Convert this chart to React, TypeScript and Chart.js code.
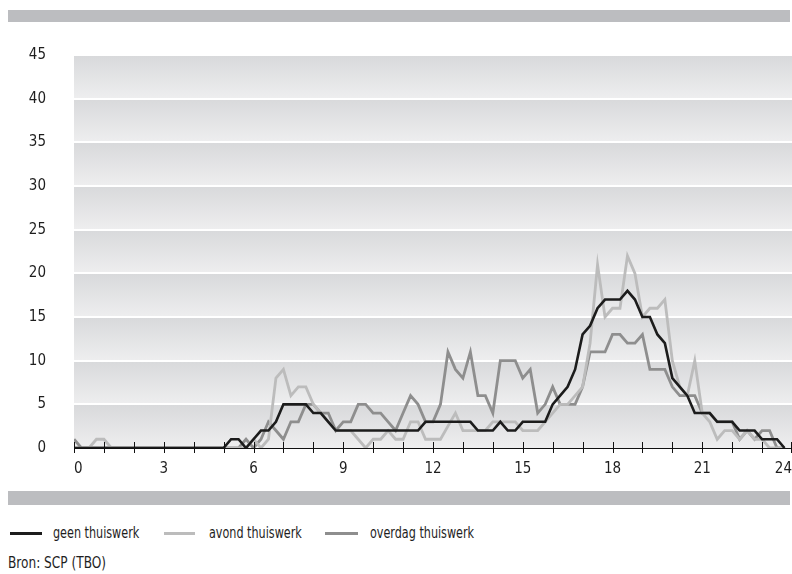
import React, { useEffect, useLayoutEffect, useRef } from "react";
import { Chart, registerables } from "chart.js";

Chart.register(...registerables);

// quarter-hour time points (hours)
const hours: number[] = Array.from({ length: 96 }, (_, i) => i * 0.25);

// geen thuiswerk (black)
const geen: number[] = [
  0, 0, 0, 0, 0, 0, 0, 0, 0, 0, 0, 0, 0, 0, 0, 0, 0, 0, 0, 0,
  0, 1, 1, 0, 1, 2, 2, 3, 5, 5, 5, 5, 4, 4, 3, 2,
  2, 2, 2, 2, 2, 2, 2, 2, 2, 2, 2, 3,
  3, 3, 3, 3, 3, 3, 2, 2, 2, 3, 2, 2, 3, 3, 3, 3,
  5, 6, 7, 9, 13, 14, 16, 17, 17, 17, 18, 17, 15, 15, 13, 12,
  8, 7, 6, 4, 4, 4, 3, 3, 3, 2, 2, 2, 1, 1, 1, 0,
];

// avond thuiswerk (light grey)
const avond: number[] = [
  0, 0, 0, 1, 1, 0, 0, 0, 0, 0, 0, 0, 0, 0, 0, 0, 0, 0, 0, 0,
  0, 0, 0, 0, 1, 0, 1, 8, 9, 6, 7, 7, 5, 4, 3, 2,
  2, 2, 1, 0, 1, 1, 2, 1, 1, 3, 3, 1,
  1, 1, 2.5, 4, 2, 2, 2, 2, 3, 3, 3, 3, 2, 2, 2, 3,
  4, 5, 5, 6, 7, 12, 21, 15, 16, 16, 22, 20, 15, 16, 16, 17,
  10, 7, 6, 10, 4, 3, 1, 2, 2, 1, 2, 1, 1, 0, 0, 0,
];

// overdag thuiswerk (mid grey)
const overdag: number[] = [
  1, 0, 0, 0, 0, 0, 0, 0, 0, 0, 0, 0, 0, 0, 0, 0, 0, 0, 0, 0,
  0, 0, 0, 1, 0, 1, 3, 2, 1, 3, 3, 5, 5, 4, 4, 2,
  3, 3, 5, 5, 4, 4, 3, 2, 4, 6, 5, 3,
  3, 5, 11, 9, 8, 11, 6, 6, 4, 10, 10, 10, 8, 9, 4, 5,
  7, 5, 5, 5, 7, 11, 11, 11, 13, 13, 12, 12, 13, 9, 9, 9,
  7, 6, 6, 6, 4, 4, 3, 3, 3, 1, 2, 1, 2, 2, 0, 0,
];

const xTickValues: number[] = [0, 3, 6, 9, 12, 15, 18, 21, 24];
const hourMarks: number[] = [0, 1, 2, 3, 4, 5, 6, 7, 8, 9, 10, 11, 12, 13, 14, 15, 16, 17, 18, 19, 20, 21, 22, 23, 24];
const yBands: number[] = [0, 5, 10, 15, 20, 25, 30, 35, 40];

const seriesLabels = ["geen thuiswerk", "avond thuiswerk", "overdag thuiswerk"];
const seriesColors = ["#1c1c1c", "#bcbcbc", "#8e8e8e"];

const FONT = "'Liberation Sans Narrow', 'DejaVu Sans Condensed', 'Arial Narrow', sans-serif";
const TEXT = "#1e1e1e";

const bandsPlugin = {
  id: "bands",
  beforeDraw(chart: any) {
    const { ctx, chartArea, scales } = chart;
    const y = scales.y;
    ctx.save();
    for (const v of yBands) {
      const top = y.getPixelForValue(v + 5);
      const bottom = y.getPixelForValue(v);
      const g = ctx.createLinearGradient(0, top, 0, bottom);
      g.addColorStop(0, "#d8d9db");
      g.addColorStop(1, "#eeeeef");
      ctx.fillStyle = g;
      ctx.fillRect(chartArea.left, top, chartArea.right - chartArea.left, bottom - top);
    }
    ctx.restore();
  },
};

const tickMarksPlugin = {
  id: "tickMarks",
  afterDatasetsDraw(chart: any) {
    const { ctx, scales } = chart;
    const x = scales.x;
    const y0 = scales.y.getPixelForValue(0);
    ctx.save();
    ctx.strokeStyle = "#111";
    ctx.lineWidth = 1;
    for (const h of hourMarks) {
      const px = Math.min(Math.round(x.getPixelForValue(h)) + 0.5, chart.width - 0.5);
      ctx.beginPath();
      ctx.moveTo(px, y0 - 6);
      ctx.lineTo(px, y0 + 5);
      ctx.stroke();
    }
    ctx.restore();
  },
};

export default function App() {
  const ref = useRef<HTMLCanvasElement | null>(null);

  useLayoutEffect(() => {
    document.body.style.margin = "0";
  }, []);

  useEffect(() => {
    if (!ref.current) return;
    const values = [geen, avond, overdag];
    const chart = new Chart(ref.current, {
      type: "line",
      data: {
        datasets: values.map((arr, k) => ({
          label: seriesLabels[k],
          data: hours.map((t, i) => ({ x: t, y: arr[i] })),
          borderColor: seriesColors[k],
          backgroundColor: seriesColors[k],
          borderWidth: k === 0 ? 2.6 : 2.8,
          pointRadius: 0,
          tension: 0,
          fill: false,
        })),
      },
      options: {
        animation: false,
        responsive: false,
        maintainAspectRatio: false,
        layout: { padding: { top: 33, right: 0, left: 0, bottom: 0 } },
        plugins: { legend: { display: false }, tooltip: { enabled: false } },
        scales: {
          x: {
            type: "linear",
            min: 0,
            max: 24,
            afterFit: (s: any) => {
              s.height = 42;
              s.paddingLeft = 0;
              s.paddingRight = 0;
            },
            afterBuildTicks: (s: any) => {
              s.ticks = xTickValues.map((v) => ({ value: v }));
            },
            grid: { display: false, drawTicks: false },
            border: { display: true, color: "#111", width: 1 },
            ticks: {
              align: "inner",
              padding: 12,
              autoSkip: false,
              maxRotation: 0,
              color: TEXT,
              font: { family: FONT, size: 15 },
              callback: (v: any) => String(v),
            },
          },
          y: {
            min: 0,
            max: 45,
            afterFit: (s: any) => {
              s.width = 66;
              s.paddingTop = 0;
              s.paddingBottom = 0;
            },
            ticks: { stepSize: 5, padding: 28, color: TEXT, font: { family: FONT, size: 15 } },
            grid: {
              drawTicks: false,
              lineWidth: 2,
              color: (c: any) => (c.tick && c.tick.value === 0 ? "rgba(0,0,0,0)" : "#ffffff"),
            },
            border: { display: false },
          },
        },
      },
      plugins: [bandsPlugin, tickMarksPlugin],
    } as any);
    return () => chart.destroy();
  }, []);

  const textStyle: React.CSSProperties = {
    position: "absolute",
    fontFamily: FONT,
    fontSize: 15,
    color: TEXT,
    lineHeight: "18px",
    whiteSpace: "nowrap",
    transformOrigin: "0 50%",
  };

  const legendPos = [
    { sx: 10, sw: 32, tx: 53 },
    { sx: 164, sw: 31, tx: 209 },
    { sx: 325, sw: 33, tx: 370 },
  ];

  return (
    <div style={{ position: "relative", width: 792, height: 574, overflow: "hidden" }}>
      <div style={{ position: "absolute", left: 8, top: 10, width: 782, height: 12, background: "#bcbdc0" }} />
      <canvas
        ref={ref}
        width={784}
        height={468}
        style={{ position: "absolute", left: 8, top: 22, width: 784, height: 468, display: "block" }}
      />
      <div style={{ position: "absolute", left: 8, top: 491, width: 782, height: 14, background: "#bcbdc0" }} />
      {legendPos.map((p, k) => (
        <React.Fragment key={k}>
          <div
            style={{
              position: "absolute",
              left: p.sx,
              top: 532,
              width: p.sw,
              height: 3,
              background: seriesColors[k],
            }}
          />
          <div style={{ ...textStyle, left: p.tx, top: 524, transform: "scaleX(0.83)" }}>{seriesLabels[k]}</div>
        </React.Fragment>
      ))}
      <div style={{ ...textStyle, left: 8, top: 554, transform: "scaleX(0.9)" }}>Bron: SCP (TBO)</div>
    </div>
  );
}
